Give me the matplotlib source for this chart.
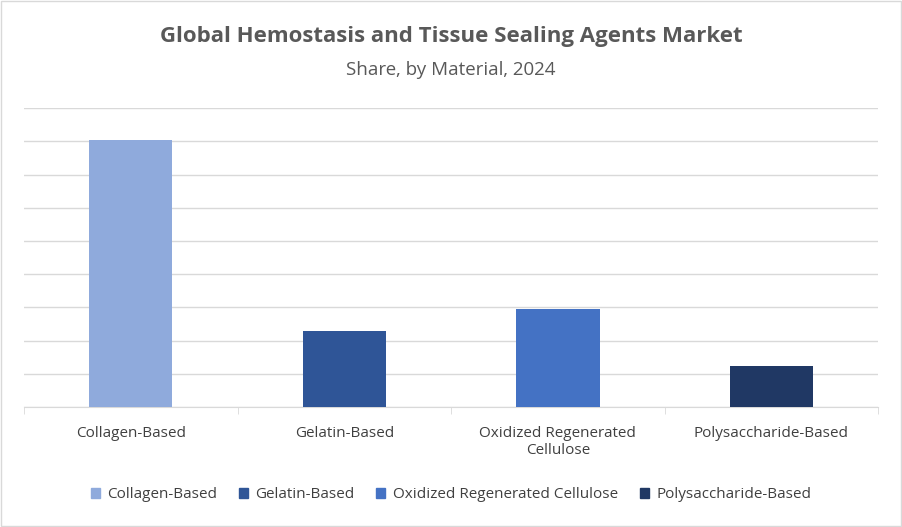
import matplotlib.pyplot as plt
import matplotlib.patches as mpatches
import numpy as np

plt.rcParams['font.family'] = 'Open Sans'

categories = ['Collagen-Based', 'Gelatin-Based', 'Oxidized Regenerated\nCellulose', 'Polysaccharide-Based']
legend_names = ['Collagen-Based', 'Gelatin-Based', 'Oxidized Regenerated Cellulose', 'Polysaccharide-Based']
values = [8.04, 2.29, 2.95, 1.23]
colors = ['#8FAADC', '#2F5597', '#4472C4', '#203864']

fig = plt.figure(figsize=(9.02, 5.27), dpi=100)
fig.patches.append(mpatches.Rectangle((0.001, 0.001), 0.998, 0.997, transform=fig.transFigure,
                                      fill=False, edgecolor='#D9D9D9', lw=1))
ax = fig.add_axes([0.0266, 0.2277, 0.947, 0.567])

x = np.arange(len(categories))
ax.bar(x, values, width=0.39, color=colors, zorder=3)
ax.set_xlim(-0.5, len(categories) - 0.5)
ax.set_ylim(0, 9)
ax.set_yticks(np.arange(0, 10))
ax.yaxis.grid(True, color='#D9D9D9', lw=1, zorder=0)
ax.tick_params(axis='y', left=False, labelleft=False)
for s in ['top', 'right', 'left']:
    ax.spines[s].set_visible(False)
ax.spines['bottom'].set_color('#D9D9D9')

ax.set_xticks(x)
ax.set_xticklabels(categories, fontsize=11, color='#404040', linespacing=1.1)
ax.tick_params(axis='x', length=0, pad=14)
ax.set_xticks(np.arange(-0.5, len(categories)), minor=True)
ax.tick_params(axis='x', which='minor', length=5, color='#D9D9D9')

fig.text(0.5, 0.93, 'Global Hemostasis and Tissue Sealing Agents Market', ha='center',
         va='center', fontsize=16, fontweight='bold', color='#595959')
fig.text(0.5, 0.867, 'Share, by Material, 2024', ha='center', va='center',
         fontsize=13.5, color='#595959')

handles = [mpatches.Patch(color=c) for c in colors]
fig.legend(handles, legend_names, loc='center', bbox_to_anchor=(0.5, 0.061), ncol=4,
           frameon=False, fontsize=11, labelcolor='#404040', handlelength=0.6,
           handleheight=0.6, handletextpad=0.5, columnspacing=1.4)

fig.savefig('out.png', dpi=100)
